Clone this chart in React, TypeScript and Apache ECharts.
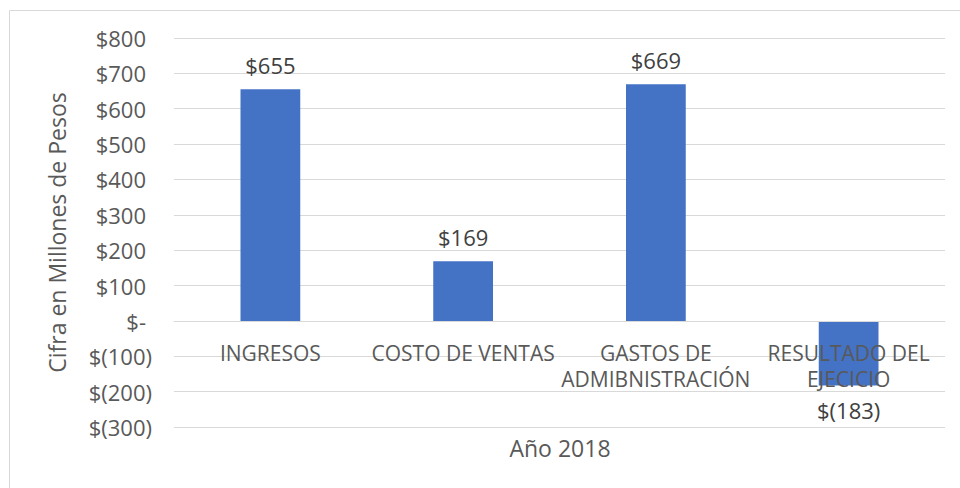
import React, { useEffect, useRef } from "react";
import * as echarts from "echarts";

const categories = ["INGRESOS", "COSTO DE VENTAS", "GASTOS DE\nADMIBNISTRACIÓN", "RESULTADO DEL\nEJECICIO"];
const values = [655, 169, 669, -183];
const yMin = -300;
const yMax = 800;
const yInterval = 100;
const yAxisTitle = "Cifra en Millones de Pesos";
const xAxisTitle = "Año 2018";

const fmt = (v: number) => (v === 0 ? "$-" : v < 0 ? `$(${Math.abs(v)})` : `$${v}`);
const fmtAxis = (v: number) => (v < 0 ? `{n|${fmt(v)}}` : `{p|${fmt(v)}}`);

export default function App() {
  const ref = useRef<HTMLDivElement>(null);
  useEffect(() => {
    document.body.style.margin = "0";
    const chart = echarts.init(ref.current!, null, { renderer: "svg" });
    const font = "'Open Sans', sans-serif";
    chart.setOption({
      animation: false,
      backgroundColor: "#ffffff",
      grid: { left: 174, right: 15, top: 38, bottom: 61, containLabel: false, outerBoundsMode: "none" },
      graphic: [
        {
          type: "rect",
          shape: { x: 9.5, y: 10.5, width: 1000, height: 600 },
          style: { fill: "none", stroke: "#d9d9d9", lineWidth: 1 },
          silent: true,
          z: -1,
        },
        {
          type: "text",
          x: 560,
          y: 448,
          style: { text: xAxisTitle, fill: "#595959", font: `23px ${font}`, textAlign: "center", textVerticalAlign: "middle" },
        },
      ],
      xAxis: {
        type: "category",
        data: categories,
        z: 5,
        offset: -106,
        axisLine: { show: true, onZero: false, lineStyle: { color: "#d9d9d9" } },
        axisTick: { show: false },
        axisLabel: {
          color: "#595959",
          fontSize: 21,
          fontFamily: font,
          lineHeight: 26,
          margin: 19,
          interval: 0,
        },
      },
      yAxis: {
        type: "value",
        min: yMin,
        max: yMax,
        interval: yInterval,
        name: yAxisTitle,
        nameLocation: "middle",
        nameGap: 106,
        nameRotate: 90,
        nameTextStyle: { color: "#595959", fontSize: 23, fontFamily: font },
        axisLine: { show: false },
        axisTick: { show: false },
        axisLabel: {
          color: "#595959",
          fontSize: 22,
          fontFamily: font,
          margin: 22,
          formatter: fmtAxis,
          rich: {
            p: { color: "#595959", fontSize: 22, fontFamily: font, padding: [0, 6, 0, 0] },
            n: { color: "#595959", fontSize: 22, fontFamily: font },
          },
        },
        splitLine: { lineStyle: { color: "#d9d9d9", width: 1 } },
      },
      series: [
        {
          type: "bar",
          data: values,
          barWidth: "31%",
          itemStyle: { color: "#4472C4" },
          label: {
            show: true,
            position: "outside",
            formatter: (p: any) => fmt(p.value),
            color: "#404040",
            fontSize: 22,
            fontFamily: font,
            distance: 13,
          },
        },
      ],
    });
    return () => chart.dispose();
  }, []);
  return <div ref={ref} style={{ width: 960, height: 488 }} />;
}
